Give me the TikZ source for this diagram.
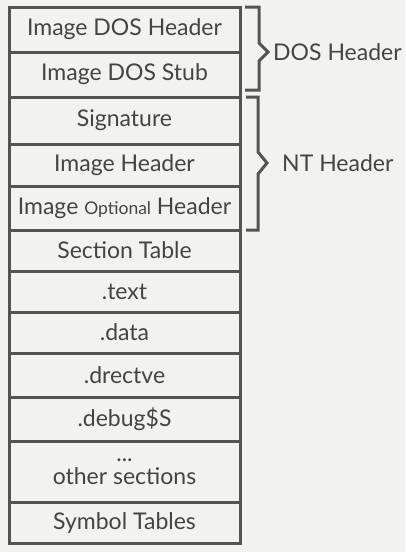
\documentclass[tikz,border=0pt]{standalone}
\usepackage{fontspec}
\setmainfont{Lato}
\definecolor{bg}{HTML}{F2F2F0}
\definecolor{ln}{HTML}{55544F}
\definecolor{tx}{HTML}{454441}
\begin{document}
\begin{tikzpicture}[x=1pt,y=-1pt,
  cell/.style={draw=ln,line width=3pt,rectangle,inner sep=0pt,minimum width=231pt,text=tx,font=\fontsize{23}{26}\selectfont,align=center},
  brace/.style={draw=ln,line width=3pt,line join=miter},
  lbl/.style={anchor=west,inner sep=0pt,text=tx,font=\fontsize{23}{26}\selectfont}]
\fill[bg] (0,0) rectangle (405,552);
\useasboundingbox (0,0) rectangle (405,552);
\def\cellat#1#2#3#4{\node[cell,minimum height=#3-#2] (#1) at (124.5,{(#2+#3)/2}) {#4};}
\cellat{dosh}{7}{52}{Image DOS Header}
\cellat{doss}{52}{97}{Image DOS Stub}
\cellat{sig}{97}{144}{Signature}
\cellat{imh}{144}{186}{Image Header}
\cellat{opt}{186}{230}{Image {\fontsize{17.5}{20}\selectfont Optional} Header}
\cellat{sect}{230}{271}{Section Table}
\cellat{text}{271}{312}{.text}
\cellat{data}{312}{353}{.data}
\cellat{drec}{353}{397}{.drectve}
\cellat{dbg}{397}{441}{.debug\$S}
\cellat{oth}{441}{502}{...\\[-3pt]other sections}
\cellat{sym}{502}{543}{Symbol Tables}
% DOS brace
\coordinate (t1) at (268,52);
\draw[brace] (245,7) -- (259,7) -- (259,43) -- (t1) -- (259,61) -- (259,90) -- (245,90);
\node[lbl] (doslbl) at (273,52) {DOS Header};
% NT brace
\coordinate (t2) at (267,163);
\draw[brace] (246,97) -- (258,97) -- (258,152) -- (t2) -- (258,174) -- (258,230) -- (246,230);
\node[lbl] (ntlbl) at (282,163) {NT Header};
\end{tikzpicture}
\end{document}
